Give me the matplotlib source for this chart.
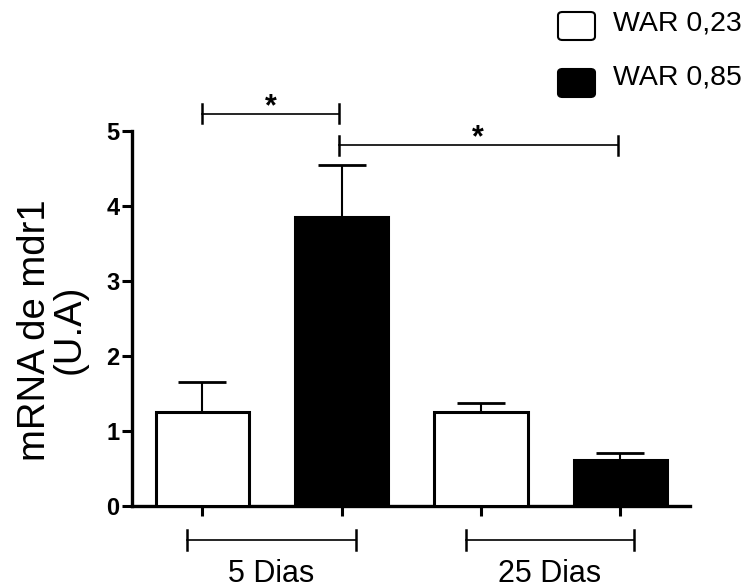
import numpy as np
import matplotlib.pyplot as plt
from matplotlib.patches import FancyBboxPatch

plt.rcParams['font.family'] = ['Liberation Sans', 'DejaVu Sans']

# data
groups = ['5 Dias', '25 Dias']
series = ['WAR 0,23', 'WAR 0,85']
colors = ['white', 'black']
means = {'WAR 0,23': [1.25, 1.25], 'WAR 0,85': [3.85, 0.61]}
errors = {'WAR 0,23': [0.40, 0.12], 'WAR 0,85': [0.70, 0.10]}
yticks = [0, 1, 2, 3, 4, 5]
sig_pairs = [(0, 1), (1, 3)]  # bar indices compared
sig_labels = ['*', '*']
sig_heights = [5.23, 4.81]

fig = plt.figure(figsize=(7.56, 5.88), dpi=100)
ax = fig.add_axes([132 / 756, 1 - 506 / 588, 558 / 756, 375 / 588])

lw = 2.4
pos = []
for g in range(len(groups)):
    for s, name in enumerate(series):
        x = g * 2 + s
        pos.append(x)
        ax.bar(x, means[name][g], width=0.67, color=colors[s], edgecolor='black',
               linewidth=2.2, zorder=3)
        ax.errorbar(x, means[name][g], yerr=[[0], [errors[name][g]]], fmt='none',
                    ecolor='black', elinewidth=1.5, capsize=17, capthick=2, zorder=2)

ax.set_xlim(-0.506, 3.5)
ax.set_ylim(0, 5)
ax.set_yticks(yticks)
ax.set_xticks(pos)
ax.set_xticklabels([])
for side in ['top', 'right']:
    ax.spines[side].set_visible(False)
for side in ['left', 'bottom']:
    ax.spines[side].set_linewidth(lw)
ax.tick_params(axis='both', width=2.2, length=7)
ax.tick_params(axis='y', pad=2, labelsize=17)
for t in ax.get_yticklabels():
    t.set_fontweight('bold')

ax.set_ylabel('mRNA de mdr1\n(U.A)', fontsize=27.5, linespacing=0.93)
ax.yaxis.set_label_coords(-0.08, 0.47)

# group brackets under the axis
for g, label in enumerate(groups):
    x0, x1 = g * 2 - 0.11, g * 2 + 1.1
    yb = -0.45
    ax.plot([x0, x1], [yb, yb], color='black', lw=1.2, clip_on=False)
    for xe in (x0, x1):
        ax.plot([xe, xe], [yb - 0.13, yb + 0.13], color='black', lw=1.8, clip_on=False)
    ax.text((x0 + x1) / 2, -1.01, label, fontsize=22, ha='center', va='baseline')

# significance brackets
for (a, b), lab, h in zip(sig_pairs, sig_labels, sig_heights):
    xa, xb = pos[a] - 0.02 * (a > 0), pos[b] - 0.02
    ax.plot([xa, xb], [h, h], color='black', lw=1.2, clip_on=False)
    for xe in (xa, xb):
        ax.plot([xe, xe], [h - 0.13, h + 0.13], color='black', lw=1.8, clip_on=False)
    ax.text((xa + xb) / 2, h - 0.02, lab, fontsize=22, fontweight='bold',
            ha='center', va='baseline')

# legend drawn by hand
box_y = [1 - 40 / 588, 1 - 97 / 588]
text_y = [1 - 23 / 588, 1 - 78 / 588]
for s, name in enumerate(series):
    fig.add_artist(FancyBboxPatch((558 / 756, box_y[s]), 37 / 756, 28 / 588,
                                  boxstyle='round,pad=0,rounding_size=0.006',
                                  facecolor=colors[s], edgecolor='black', lw=1.5,
                                  transform=fig.transFigure))
    fig.text(613 / 756, text_y[s], name, fontsize=20.5, ha='left', va='center')

fig.savefig('out.png', dpi=100)
